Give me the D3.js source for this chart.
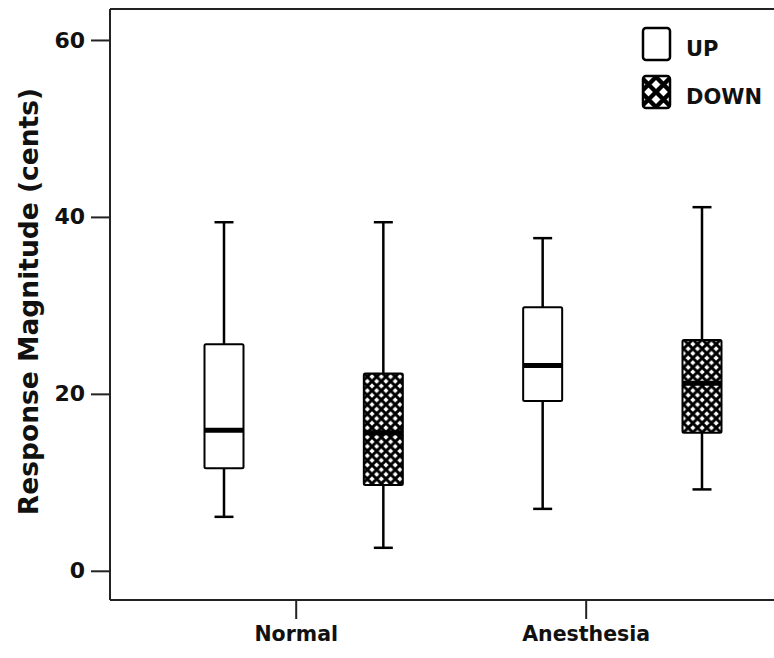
<!DOCTYPE html>
<html>
<head>
<meta charset="utf-8">
<script src="https://cdn.jsdelivr.net/npm/d3@7"></script>
<style>
  body { margin: 0; background: #fff; }
  svg { display: block; }
  text { font-family: "DejaVu Sans", sans-serif; font-weight: bold; fill: #111; }
</style>
</head>
<body>
<svg id="chart" width="774" height="658"></svg>
<script>
'use strict';

// groups on the x axis and the two shift directions
const groups = ["Normal", "Anesthesia"];
const groupTickAt = [0.45, 2.27];   // where the group ticks sit, in box-slot units
const conditions = ["UP", "DOWN"];

// one entry per box: Normal UP, Normal DOWN, Anesthesia UP, Anesthesia DOWN
const boxCondition = ["UP", "DOWN", "UP", "DOWN"];
const whiskerLow  = [6.1, 2.6, 7.0, 9.2];
const q1          = [11.6, 9.7, 19.2, 15.6];
const medians     = [15.9, 15.6, 23.2, 21.2];
const q3          = [25.6, 22.3, 29.8, 26.1];
const whiskerHigh = [39.4, 39.4, 37.6, 41.1];

const yTicks = [0, 20, 40, 60];

const svg = d3.select("#chart");
const plotL = 110, plotT = 9, plotR = 774, plotB = 600;

const x = d3.scaleLinear().domain([0, 3]).range([224, 702]);
const y = d3.scaleLinear().domain([-3.3, 63.5]).range([plotB, plotT]);

// crosshatch fills for DOWN (boxes and a coarser one for the legend key)
const defs = svg.append("defs");
function makeHatch(id, s, w, ox, oy) {
    const p = defs.append("pattern")
        .attr("id", id)
        .attr("patternUnits", "userSpaceOnUse")
        .attr("x", ox || 0).attr("y", oy || 0)
        .attr("width", s).attr("height", s);
    p.append("rect").attr("width", s).attr("height", s).attr("fill", "#fff");
    const e = w;
    // two diagonals plus the corner pieces of the neighbouring tiles
    p.append("path")
        .attr("d", `M${-e},${-e}L${s + e},${s + e}M${s + e},${-e}L${-e},${s + e}` +
                   `M${-e},${s - e}L${e},${s + e}M${s - e},${-e}L${s + e},${e}` +
                   `M${-e},${e}L${e},${-e}M${s - e},${s + e}L${s + e},${s - e}`)
        .attr("stroke", "#000").attr("stroke-width", w);
}
makeHatch("hatch", 9.3, 2.9);
makeHatch("hatchBig", 15, 4.4, 643, 76);

function fillFor(c, big) {
    if (c !== "DOWN") return "#fff";
    return big ? "url(#hatchBig)" : "url(#hatch)";
}

// frame
svg.append("line").attr("x1", plotL).attr("x2", plotR).attr("y1", plotT).attr("y2", plotT)
    .attr("stroke", "#222").attr("stroke-width", 2);

// y axis
const yAxis = d3.axisLeft(y).tickValues(yTicks).tickSize(19).tickPadding(6);
const gy = svg.append("g").attr("transform", `translate(${plotL},0)`).call(yAxis);
gy.select(".domain").remove();
gy.append("line").attr("x1", 0).attr("x2", 0).attr("y1", plotT).attr("y2", plotB)
    .attr("stroke", "#222").attr("stroke-width", 2);
gy.selectAll(".tick line").attr("stroke", "#222").attr("stroke-width", 2);
gy.selectAll(".tick text").style("font-size", "22px").attr("fill", "#111");

// x axis
const xAxis = d3.axisBottom(x).tickValues(groupTickAt)
    .tickFormat((d, i) => groups[i]).tickSize(19).tickPadding(7);
const gx = svg.append("g").attr("transform", `translate(0,${plotB})`).call(xAxis);
gx.select(".domain").remove();
gx.append("line").attr("x1", plotL).attr("x2", plotR).attr("y1", 0).attr("y2", 0)
    .attr("stroke", "#222").attr("stroke-width", 2);
gx.selectAll(".tick line").attr("stroke", "#222").attr("stroke-width", 2);
gx.selectAll(".tick text").style("font-size", "20.5px").attr("fill", "#111");

// y title
svg.append("text")
    .attr("transform", `translate(38,${(plotT + plotB) / 2 - 3}) rotate(-90)`)
    .attr("text-anchor", "middle")
    .style("font-size", "26.5px")
    .text("Response Magnitude (cents)");

// boxes
const boxW = 39, capW = 19;
const idx = d3.range(medians.length);
const b = svg.append("g").selectAll("g").data(idx).join("g");

b.append("line")
    .attr("x1", i => x(i)).attr("x2", i => x(i))
    .attr("y1", i => y(whiskerLow[i])).attr("y2", i => y(whiskerHigh[i]))
    .attr("stroke", "#000").attr("stroke-width", 2.5);
b.append("line")
    .attr("x1", i => x(i) - capW / 2).attr("x2", i => x(i) + capW / 2)
    .attr("y1", i => y(whiskerHigh[i])).attr("y2", i => y(whiskerHigh[i]))
    .attr("stroke", "#000").attr("stroke-width", 2.5);
b.append("line")
    .attr("x1", i => x(i) - capW / 2).attr("x2", i => x(i) + capW / 2)
    .attr("y1", i => y(whiskerLow[i])).attr("y2", i => y(whiskerLow[i]))
    .attr("stroke", "#000").attr("stroke-width", 2.5);
b.append("rect")
    .attr("x", i => x(i) - boxW / 2).attr("width", boxW)
    .attr("y", i => y(q3[i])).attr("height", i => y(q1[i]) - y(q3[i]))
    .attr("rx", 1.5)
    .attr("fill", i => fillFor(boxCondition[i]))
    .attr("stroke", "#000").attr("stroke-width", 2);
b.append("line")
    .attr("x1", i => x(i) - boxW / 2).attr("x2", i => x(i) + boxW / 2)
    .attr("y1", i => y(medians[i])).attr("y2", i => y(medians[i]))
    .attr("stroke", "#000").attr("stroke-width", 5);

// legend
const lg = svg.append("g").attr("transform", "translate(643,28)");
const li = lg.selectAll("g").data(conditions).join("g")
    .attr("transform", (d, i) => `translate(0,${i * 48})`);
li.append("rect").attr("width", 27).attr("height", 32).attr("rx", 3)
    .attr("fill", d => fillFor(d, true)).attr("stroke", "#000").attr("stroke-width", 2.5);
li.append("text").attr("x", 43).attr("y", 28)
    .style("font-size", "21px").text(d => d);
</script>
</body>
</html>
